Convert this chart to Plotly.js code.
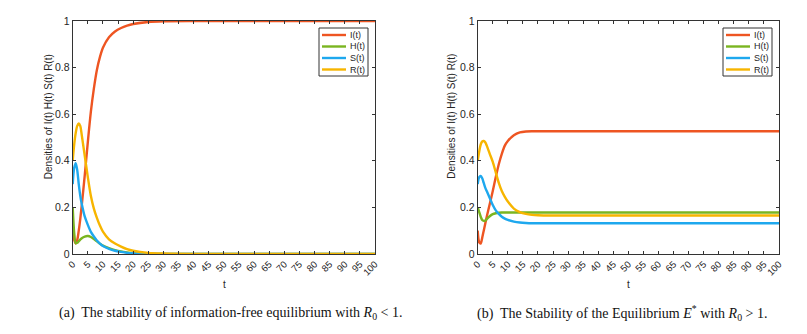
<!DOCTYPE html>
<html>
<head>
<meta charset="utf-8">
<script src="https://cdn.plot.ly/plotly-3.0.1.min.js"></script>
<style>
  html, body { margin: 0; padding: 0; background: #fff; }
  #plot { width: 807px; height: 334px; }
</style>
</head>
<body>
<div id="plot"></div>
<script>
// time points (denser where the curves move fast)
var t = [0, 0.5, 1, 1.5, 2, 2.5, 3, 4, 5, 6, 7, 8, 9, 10, 12, 14, 16, 18, 20, 25, 30, 40, 50, 60, 70, 80, 90, 100];

// (a) information-free equilibrium, R0 < 1
var Ia = [0.10, 0.06, 0.045, 0.06, 0.10, 0.15, 0.21, 0.34, 0.48, 0.61, 0.71, 0.79, 0.845, 0.885, 0.93, 0.955, 0.97, 0.98, 0.987, 0.996, 0.999, 1, 1, 1, 1, 1, 1, 1];
var Ha = [0.20, 0.09, 0.046, 0.048, 0.055, 0.062, 0.068, 0.075, 0.077, 0.073, 0.064, 0.054, 0.044, 0.036, 0.025, 0.017, 0.011, 0.007, 0.004, 0.0015, 0.0005, 0, 0, 0, 0, 0, 0, 0];
var Sa = [0.30, 0.37, 0.39, 0.36, 0.30, 0.25, 0.215, 0.16, 0.125, 0.095, 0.075, 0.058, 0.045, 0.034, 0.022, 0.014, 0.009, 0.005, 0.003, 0.001, 0.0003, 0, 0, 0, 0, 0, 0, 0];
var Ra = [0.40, 0.47, 0.52, 0.55, 0.56, 0.55, 0.51, 0.42, 0.33, 0.25, 0.195, 0.155, 0.122, 0.096, 0.063, 0.045, 0.032, 0.021, 0.014, 0.005, 0.002, 0.0005, 0, 0, 0, 0, 0, 0];

// (b) endemic equilibrium E*, R0 > 1
var Ib = [0.10, 0.05, 0.045, 0.07, 0.10, 0.13, 0.16, 0.215, 0.27, 0.33, 0.385, 0.43, 0.465, 0.485, 0.51, 0.522, 0.526, 0.527, 0.527, 0.527, 0.527, 0.527, 0.527, 0.527, 0.527, 0.527, 0.527, 0.527];
var Hb = [0.20, 0.18, 0.16, 0.146, 0.142, 0.143, 0.15, 0.162, 0.171, 0.175, 0.177, 0.178, 0.178, 0.178, 0.178, 0.178, 0.178, 0.178, 0.178, 0.178, 0.178, 0.178, 0.178, 0.178, 0.178, 0.178, 0.178, 0.178];
var Sb = [0.30, 0.33, 0.335, 0.325, 0.305, 0.285, 0.27, 0.24, 0.21, 0.187, 0.172, 0.16, 0.152, 0.146, 0.139, 0.135, 0.133, 0.132, 0.132, 0.132, 0.132, 0.132, 0.132, 0.132, 0.132, 0.132, 0.132, 0.132];
var Rb = [0.40, 0.44, 0.47, 0.483, 0.485, 0.48, 0.465, 0.43, 0.395, 0.35, 0.305, 0.27, 0.245, 0.225, 0.195, 0.18, 0.172, 0.168, 0.166, 0.165, 0.165, 0.165, 0.165, 0.165, 0.165, 0.165, 0.165, 0.165];

var names = ['I(t)', 'H(t)', 'S(t)', 'R(t)'];
var colors = ['#EE5522', '#7AB520', '#1EA8EE', '#F7B500'];
var xTicks = [0, 5, 10, 15, 20, 25, 30, 35, 40, 45, 50, 55, 60, 65, 70, 75, 80, 85, 90, 95, 100];
var yTicks = [0, 0.2, 0.4, 0.6, 0.8, 1];

function line(y, i, xa, ya) {
  return {
    x: t, y: y, type: 'scatter', mode: 'lines',
    name: names[i], xaxis: xa, yaxis: ya, showlegend: false,
    line: {color: colors[i], width: 2.4, shape: 'spline', smoothing: 0.8}
  };
}

var data = [
  line(Ia, 0, 'x', 'y'),
  line(Ha, 1, 'x', 'y'),
  line(Sa, 2, 'x', 'y'),
  line(Ra, 3, 'x', 'y'),
  line(Ib, 0, 'x2', 'y2'),
  line(Hb, 1, 'x2', 'y2'),
  line(Sb, 2, 'x2', 'y2'),
  line(Rb, 3, 'x2', 'y2')
];

var W = 807, H = 334;
function px(v) { return v / W; }
function py(v) { return (H - v) / H; }

function xAxis(x0, x1, anchor) {
  return {
    domain: [px(x0), px(x1)], range: [0, 100], anchor: anchor,
    tickmode: 'array', tickvals: xTicks, tickangle: -45,
    ticks: 'inside', ticklen: 3, tickcolor: '#333',
    showline: true, linecolor: '#333', linewidth: 1, mirror: 'ticks',
    showgrid: false, zeroline: false,
    tickfont: {size: 9.5, color: '#262626'}
  };
}
function yAxis(anchor) {
  return {
    domain: [py(254), py(21)], range: [0, 1], anchor: anchor,
    tickmode: 'array', tickvals: yTicks,
    ticks: 'inside', ticklen: 3, tickcolor: '#333',
    showline: true, linecolor: '#333', linewidth: 1, mirror: 'ticks',
    showgrid: false, zeroline: false,
    tickfont: {size: 10.5, color: '#262626'}
  };
}

// small boxed legend like MATLAB's, top-right of each panel
var shapes = [], annotations = [];
function legendBox(x1) {
  var x0 = x1 - 49;
  shapes.push({type: 'rect', xref: 'paper', yref: 'paper',
    x0: px(x0), x1: px(x1), y0: py(76), y1: py(28),
    fillcolor: '#fff', line: {color: '#333', width: 1}, layer: 'above'});
  names.forEach(function (n, i) {
    var yy = 35 + 11.5 * i;
    shapes.push({type: 'line', xref: 'paper', yref: 'paper',
      x0: px(x0 + 3), x1: px(x0 + 27), y0: py(yy), y1: py(yy),
      line: {color: colors[i], width: 2.4}, layer: 'above'});
    annotations.push({text: n, xref: 'paper', yref: 'paper',
      x: px(x0 + 29), y: py(yy), xanchor: 'left', yanchor: 'middle',
      showarrow: false, font: {size: 9, color: '#262626'}});
  });
}
legendBox(368);
legendBox(772);

function label(text, x, y, opts) {
  annotations.push(Object.assign({text: text, xref: 'paper', yref: 'paper',
    x: px(x), y: py(y), xanchor: 'center', yanchor: 'middle', showarrow: false,
    font: {size: 10, color: '#262626'}}, opts || {}));
}
var yTitle = 'Densities of I(t) H(t) S(t) R(t)';
label(yTitle, 48.5, 116.7, {textangle: -90});
label(yTitle, 452, 116.7, {textangle: -90});
label('t', 224, 284);
label('t', 628, 284);
var capFont = {family: 'Liberation Serif, Times New Roman, serif', size: 14, color: '#111'};
label('(a)  The stability of information-free equilibrium with <i>R</i><sub>0</sub> &lt; 1.', 230, 313, {font: capFont});
label('(b)  The Stability of the Equilibrium <i>E</i><sup>*</sup> with <i>R</i><sub>0</sub> &gt; 1.', 622, 313, {font: capFont});

var layout = {
  width: W, height: H,
  margin: {l: 0, r: 0, t: 0, b: 0},
  paper_bgcolor: '#fff', plot_bgcolor: '#fff',
  font: {family: 'Liberation Sans, Arial, sans-serif', color: '#262626'},
  showlegend: false,
  xaxis: xAxis(72.7, 375, 'y'),
  yaxis: yAxis('x'),
  xaxis2: xAxis(477.7, 779, 'y2'),
  yaxis2: yAxis('x2'),
  shapes: shapes,
  annotations: annotations
};

Plotly.newPlot('plot', data, layout, {displayModeBar: false, staticPlot: true});
</script>
</body>
</html>
